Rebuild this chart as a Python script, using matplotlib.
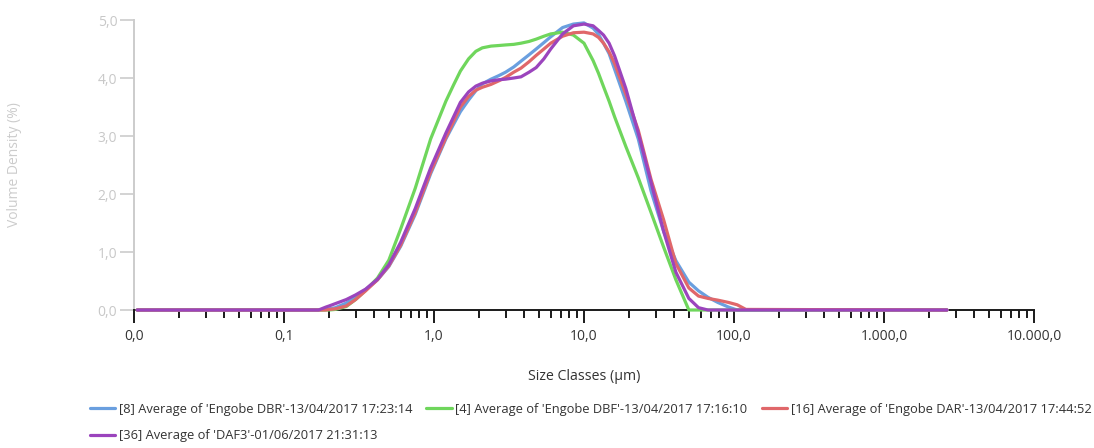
# < imports >----------------------------------------------------------------------------------

import matplotlib
matplotlib.use("Agg")

import matplotlib.pyplot as plt
from matplotlib.ticker import FixedLocator, FuncFormatter, LogLocator, NullFormatter

# < data >-------------------------------------------------------------------------------------

# size classes (um)
SIZES = [0.0105, 0.17, 0.19, 0.20, 0.22, 0.26, 0.30, 0.35, 0.42, 0.50, 0.60, 0.75, 0.95,
         1.2, 1.35, 1.5, 1.7, 1.9, 2.1, 2.4, 2.7, 3.0, 3.4, 3.8, 4.3, 4.8, 5.4, 6.0,
         7.2, 8.5, 10.0, 11.5, 12.5, 13.5, 14.7, 16.0,
         19.0, 23.0, 28.0, 34.0, 41.0, 50.0, 58.0, 67.0, 78.0, 92.0, 105.0, 120.0, 2630.0]

# volume density (%) per sample
DBR = [0.0, 0.0, 0.01, 0.02, 0.04, 0.12, 0.22, 0.35, 0.52, 0.75, 1.10, 1.65, 2.35,
       2.95, 3.20, 3.42, 3.62, 3.78, 3.90, 3.98, 4.04, 4.10, 4.19, 4.29, 4.40, 4.50, 4.61, 4.71,
       4.87, 4.93, 4.95, 4.86, 4.75, 4.60, 4.42, 4.15,
       3.60, 2.95, 2.05, 1.35, 0.85, 0.48, 0.33, 0.22, 0.13, 0.05, 0.0, 0.0, 0.0]

DBF = [0.0, 0.0, 0.0, 0.0, 0.01, 0.06, 0.18, 0.34, 0.55, 0.86, 1.40, 2.10, 2.95,
       3.60, 3.88, 4.12, 4.33, 4.46, 4.52, 4.55, 4.56, 4.57, 4.58, 4.60, 4.63, 4.67, 4.72, 4.76,
       4.79, 4.74, 4.60, 4.30, 4.08, 3.85, 3.60, 3.33,
       2.82, 2.28, 1.68, 1.08, 0.52, 0.0, 0.0, 0.0, 0.0, 0.0, 0.0, 0.0, 0.0]

DAR = [0.0, 0.0, 0.0, 0.01, 0.02, 0.07, 0.18, 0.33, 0.52, 0.76, 1.12, 1.68, 2.38,
       2.97, 3.25, 3.50, 3.68, 3.79, 3.84, 3.89, 3.95, 4.01, 4.10, 4.17, 4.28, 4.39, 4.50, 4.60,
       4.72, 4.78, 4.79, 4.76, 4.70, 4.60, 4.45, 4.25,
       3.72, 3.10, 2.25, 1.55, 0.80, 0.38, 0.24, 0.20, 0.17, 0.13, 0.09, 0.01, 0.0]

DAF3 = [0.0, 0.0, 0.05, 0.07, 0.11, 0.18, 0.26, 0.36, 0.53, 0.78, 1.17, 1.75, 2.45,
        3.05, 3.33, 3.58, 3.76, 3.86, 3.91, 3.95, 3.97, 3.98, 4.00, 4.02, 4.10, 4.18, 4.33, 4.50,
        4.76, 4.90, 4.93, 4.90, 4.82, 4.74, 4.60, 4.38,
        3.82, 3.05, 2.20, 1.35, 0.65, 0.20, 0.04, 0.0, 0.0, 0.0, 0.0, 0.0, 0.0]

LABELS = ["[8] Average of 'Engobe DBR'-13/04/2017 17:23:14",
          "[4] Average of 'Engobe DBF'-13/04/2017 17:16:10",
          "[16] Average of 'Engobe DAR'-13/04/2017 17:44:52",
          "[36] Average of 'DAF3'-01/06/2017 21:31:13"]

COLORS = ["#6a9fdf", "#6fd65c", "#e0676a", "#9b44bd"]

X_TICKS = [0.01, 0.1, 1, 10, 100, 1000, 10000]
Y_TICKS = [0, 1, 2, 3, 4, 5]

# < helpers >----------------------------------------------------------------------------------

def fmt_pt(value, pos=None):
    """ 1234.5 -> 1.234,5 """
    ls_txt = f"{value:,.1f}"
    return ls_txt.replace(",", "X").replace(".", ",").replace("X", ".")

# ---------------------------------------------------------------------------------------------
def main():
    plt.rcParams["font.family"] = ["Open Sans", "DejaVu Sans"]

    fig = plt.figure(figsize=(10.94, 4.48), dpi=100)
    ax = fig.add_axes([134 / 1094, 138 / 448, 900 / 1094, 290 / 448])

    series = [DBR, DBF, DAR, DAF3]
    handles = []
    for values, label, color in zip(series, LABELS, COLORS):
        ln, = ax.plot(SIZES, values, color=color, lw=2.3, label=label,
                      solid_joinstyle="round", solid_capstyle="round", clip_on=False, zorder=3)
        handles.append(ln)

    # axes
    ax.set_xscale("log")
    ax.set_xlim(0.01, 10000)
    ax.set_ylim(0, 5)

    ax.xaxis.set_major_locator(FixedLocator(X_TICKS))
    ax.xaxis.set_major_formatter(FuncFormatter(fmt_pt))
    ax.xaxis.set_minor_locator(LogLocator(base=10, subs=range(2, 10), numticks=20))
    ax.xaxis.set_minor_formatter(NullFormatter())

    ax.yaxis.set_major_locator(FixedLocator(Y_TICKS))
    ax.yaxis.set_major_formatter(FuncFormatter(fmt_pt))

    for side in ["top", "right"]:
        ax.spines[side].set_visible(False)
    ax.spines["bottom"].set_color("#1a1a1a")
    ax.spines["bottom"].set_linewidth(1.4)
    ax.spines["left"].set_color("#cccccc")
    ax.spines["left"].set_linewidth(1.4)

    ax.tick_params(axis="x", which="major", length=9, width=1.4, color="#1a1a1a",
                   labelsize=10, labelcolor="#333333", pad=4.5)
    ax.tick_params(axis="x", which="minor", length=6, width=1.4, color="#1a1a1a")
    ax.tick_params(axis="y", which="major", length=10, width=1.2, color="#cccccc",
                   labelsize=10, labelcolor="#c8c8c8", pad=2)

    ax.set_xlabel("Size Classes (\u00b5m)", fontsize=10.2, color="#333333", labelpad=18)
    ax.set_ylabel("Volume Density (%)", fontsize=10, color="#cccccc")
    ax.yaxis.set_label_coords(-112 / 900, 0.5)

    # legend (flow layout, last column clipped by the figure edge)
    order = [0, 3, 1, 2]
    fig.legend([handles[i] for i in order], [LABELS[i] for i in order],
               loc="upper left", bbox_to_anchor=(78 / 1094, 1 - 391 / 448),
               ncol=3, frameon=False, fontsize=9.3, handlelength=1.95, handletextpad=0.3,
               columnspacing=1.1, labelspacing=1.07, labelcolor="#333333")

    fig.savefig("out.png", dpi=100)

if __name__ == "__main__":
    main()
